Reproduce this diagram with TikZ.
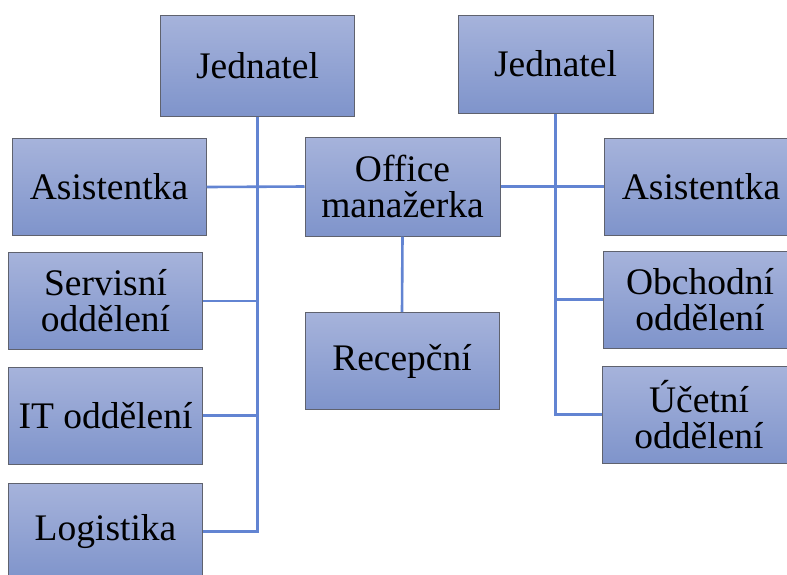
\documentclass[tikz,border=0pt]{standalone}
\usepackage{fontspec}
\setmainfont{Liberation Serif}
\newfontfamily\tnrfont{Liberation Serif}
\definecolor{boxtop}{RGB}{166,179,219}
\definecolor{boxbot}{RGB}{127,148,203}
\definecolor{boxedge}{RGB}{95,98,110}
\definecolor{linkblue}{RGB}{98,132,210}
\tikzset{
  orgbox/.style={draw=boxedge, line width=1pt, top color=boxtop, bottom color=boxbot,
    minimum width=194pt, minimum height=97pt, inner sep=0pt, align=center,
    font=\tnrfont\fontsize{37.5}{36}\selectfont},
  link/.style={draw=linkblue, line width=2.6pt}
}
\begin{document}
\begin{tikzpicture}[x=1pt,y=-1pt]
\useasboundingbox (0,0) rectangle (787,574);
\begin{scope}
\clip (0,0) rectangle (787,574);
% left side
\node[orgbox, minimum height=101pt] (J1) at (257.5,65.5) {Jednatel};
\node[orgbox] (A1) at (109,187) {Asistentka};
\node[orgbox] (S) at (105.5,301) {Servisní\\oddělení};
\node[orgbox] (IT) at (105.5,415.5) {IT oddělení};
\node[orgbox] (L) at (105.5,531.5) {Logistika};
% centre
\node[orgbox, minimum width=195pt, minimum height=99pt] (OM) at (402.5,186.5) {Office\\manažerka};
\node[orgbox] (R) at (402,361) {Recepční};
% right side
\node[orgbox, minimum width=195pt, minimum height=98pt] (J2) at (555.5,64) {Jednatel};
\node[orgbox] (A2) at (701,186.5) {Asistentka};
\node[orgbox] (O) at (700,299.5) {Obchodní\\oddělení};
\node[orgbox] (U) at (699,414.5) {Účetní\\oddělení};
% connectors
\draw[link] (J1.south) |- (L.east);
\draw[link] (A1.east) -- (OM.west);
\draw[link] (S.east) -- (S.east -| J1.south);
\draw[link] (IT.east) -- (IT.east -| J1.south);
\draw[link] (J2.south) |- (U.west);
\draw[link] (OM.east) -- (A2.west);
\draw[link] (O.west) -- (O.west -| J2.south);
\draw[link] (OM.south) -- (R.north);
\end{scope}
\end{tikzpicture}
\end{document}
